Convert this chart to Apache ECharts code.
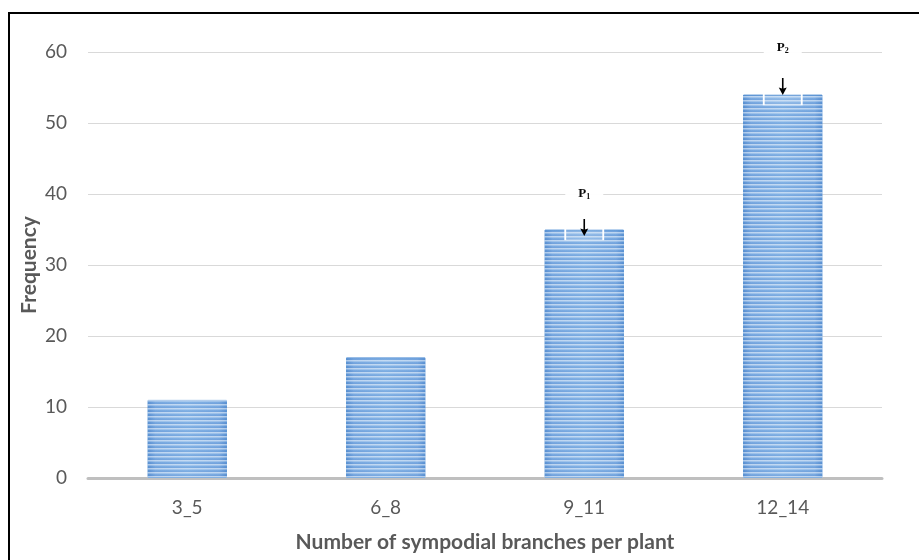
<!DOCTYPE html>
<html>
<head>
<meta charset="utf-8">
<title>Sympodial branches</title>
<script src="https://cdn.jsdelivr.net/npm/echarts@6/dist/echarts.min.js"></script>
<style>
  html, body { margin: 0; padding: 0; background: #fff; }
  #chart { width: 919px; height: 560px; }
</style>
</head>
<body>
<div id="chart"></div>
<script>
// Frequency of plants by number of sympodial branches
const categories = ['3_5', '6_8', '9_11', '12_14'];
const frequency = [11, 17, 35, 54];
const yTicks = { min: 0, max: 60, interval: 10 };
// Bars marked with parent labels
const markedBars = [
  { index: 2, sub: '1' },
  { index: 3, sub: '2' }
];

const FONT = 'Lato, "Open Sans", sans-serif';

// Horizontal stripe texture laid over the bars
function stripeCanvas() {
  const c = document.createElement('canvas');
  c.width = 4; c.height = 4;
  const g = c.getContext('2d');
  g.fillStyle = 'rgba(255,255,255,0.5)';
  g.fillRect(0, 0, 4, 1);
  g.fillStyle = 'rgba(255,255,255,0.25)';
  g.fillRect(0, 1, 4, 1);
  g.fillStyle = 'rgba(40,90,170,0.04)';
  g.fillRect(0, 2, 4, 1);
  g.fillStyle = 'rgba(40,90,170,0.10)';
  g.fillRect(0, 3, 4, 1);
  return c;
}

const baseFill = {
  type: 'linear', x: 0, y: 0, x2: 1, y2: 0,
  colorStops: [
    { offset: 0, color: '#5c93d4' },
    { offset: 0.1, color: '#7babe2' },
    { offset: 0.5, color: '#86b5e7' },
    { offset: 0.9, color: '#7babe2' },
    { offset: 1, color: '#5c93d4' }
  ]
};

const markData = [];
markedBars.forEach(function (m) {
  const v = frequency[m.index];
  const high = m.index === 3;
  // label box above the bar
  markData.push({
    coord: [m.index, v],
    symbol: 'rect',
    symbolSize: [38, 50],
    symbolOffset: [0, high ? -40 : -28],
    itemStyle: { color: '#ffffff', opacity: 0.96 },
    label: {
      show: true, position: 'inside',
      offset: [0, high ? -7 : -8],
      formatter: '{p|P}{s|' + m.sub + '}',
      rich: {
        p: { fontFamily: 'Liberation Serif, serif', fontWeight: 'bold', fontSize: 13, color: '#000' },
        s: { fontFamily: 'Liberation Serif, serif', fontWeight: 'bold', fontSize: 8, color: '#000', padding: [6, 0, 0, 0] }
      }
    }
  });
  // outlined box at the bar top
  markData.push({
    coord: [m.index, v],
    symbol: 'rect',
    symbolSize: [38, 11],
    symbolOffset: [0, 5],
    itemStyle: { color: 'rgba(255,255,255,0.12)', borderColor: '#ffffff', borderWidth: 1 },
    label: { show: false }
  });
  // arrow pointing down to the bar
  markData.push({
    coord: [m.index, v],
    symbol: 'path://M4,0 L6,0 L6,11 L10,10 L5,18 L0,10 L4,11 Z',
    symbolKeepAspect: false,
    symbolSize: [8, 17],
    symbolOffset: [0, high ? -8 : -2],
    itemStyle: { color: '#000000' },
    label: { show: false }
  });
});

const chart = echarts.init(document.getElementById('chart'), null, { renderer: 'canvas' });
chart.setOption({
  animation: false,
  backgroundColor: '#ffffff',
  grid: { left: 88, right: 37, top: 52, bottom: 82, containLabel: false },
  xAxis: {
    type: 'category',
    data: categories,
    name: 'Number of sympodial branches per plant',
    nameLocation: 'middle',
    nameGap: 54,
    nameTextStyle: { fontFamily: FONT, fontSize: 21, fontWeight: 'bold', color: '#595959' },
    axisLine: { lineStyle: { color: '#bfbfbf', width: 3 } },
    axisTick: { show: false },
    axisLabel: { fontFamily: FONT, fontSize: 19, color: '#595959', margin: 20 }
  },
  yAxis: {
    type: 'value',
    min: yTicks.min, max: yTicks.max, interval: yTicks.interval,
    name: 'Frequency',
    nameLocation: 'middle',
    nameGap: 48,
    nameMoveOverlap: false,
    nameTextStyle: { fontFamily: FONT, fontSize: 21, fontWeight: 'bold', color: '#595959' },
    axisLine: { show: false },
    axisTick: { show: false },
    axisLabel: { fontFamily: FONT, fontSize: 19, color: '#595959', margin: 21 },
    splitLine: { lineStyle: { color: '#d9d9d9', width: 1 } }
  },
  series: [
    {
      type: 'bar',
      data: frequency,
      barWidth: '40%',
      z: 2,
      itemStyle: { color: baseFill, borderColor: '#5b95d6', borderWidth: 1 },
      markPoint: { data: markData, z: 10, silent: true }
    },
    {
      type: 'bar',
      data: frequency,
      barWidth: '40%',
      barGap: '-100%',
      z: 3,
      silent: true,
      itemStyle: { color: { image: stripeCanvas(), repeat: 'repeat' } }
    }
  ],
  graphic: [
    {
      type: 'rect',
      shape: { x: 9, y: 13, width: 960, height: 600 },
      style: { fill: 'none', stroke: '#000000', lineWidth: 2 },
      z: 100
    }
  ]
});
</script>
</body>
</html>
